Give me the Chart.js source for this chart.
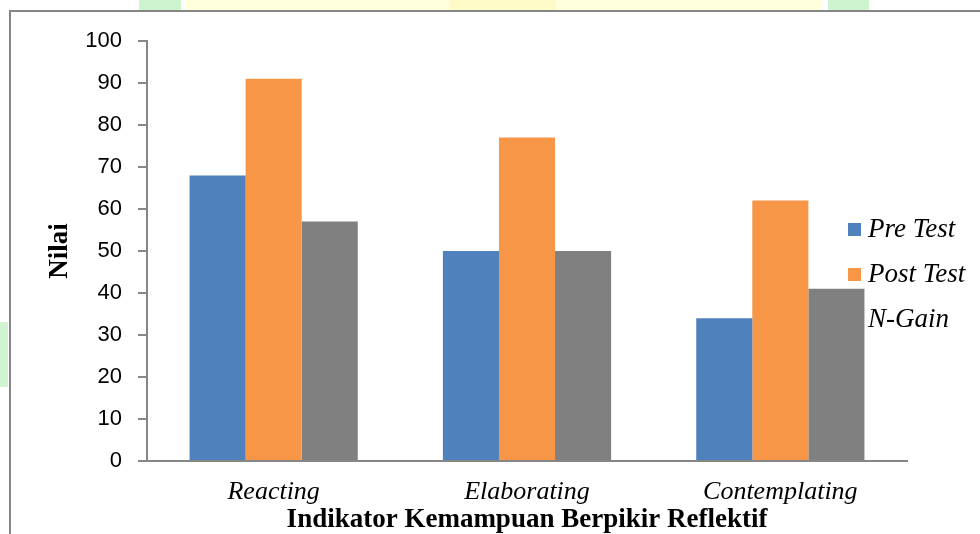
<!DOCTYPE html>
<html>
<head>
<meta charset="utf-8">
<script src="https://cdn.jsdelivr.net/npm/chart.js@4"></script>
<style>
  html, body { margin: 0; padding: 0; background: #ffffff; }
  #wrap { position: relative; width: 980px; height: 534px; overflow: hidden; }
  .deco { position: absolute; }
  #chart { position: absolute; left: 0; top: 0; }
</style>
</head>
<body>
<div id="wrap">
  <!-- page decoration behind the figure frame -->
  <div class="deco" style="left:139px;top:0;width:42px;height:10px;background:#cdf3cf;"></div>
  <div class="deco" style="left:186px;top:0;width:636px;height:10px;background:#ffffdc;"></div>
  <div class="deco" style="left:450px;top:0;width:106px;height:10px;background:#fffbc8;"></div>
  <div class="deco" style="left:828px;top:0;width:41px;height:10px;background:#cdf3cf;"></div>
  <div class="deco" style="left:0;top:322px;width:8px;height:65px;background:#d2f3d2;"></div>
  <!-- figure frame -->
  <div class="deco" style="left:9px;top:10px;width:971px;height:2px;background:#868686;"></div>
  <div class="deco" style="left:9px;top:10px;width:2px;height:524px;background:#868686;"></div>
  <canvas id="chart" width="980" height="534"></canvas>
</div>
<script>
// Indicator categories and scores per test
const categories = ['Reacting', 'Elaborating', 'Contemplating'];
const preTest = [68, 50, 34];
const postTest = [91, 77, 62];
const nGain = [57, 50, 41];
const seriesNames = ['Pre Test', 'Post Test', 'N-Gain'];
const seriesColors = ['#4f81bd', '#f79646', '#808080'];
const yTicks = [0, 10, 20, 30, 40, 50, 60, 70, 80, 90, 100];

const axisGray = '#868686';
const serif = '"Liberation Serif", "Times New Roman", serif';

// Legend drawn beneath the bars, at the right side of the plot
const sideLegend = {
  id: 'sideLegend',
  beforeDatasetsDraw(chart) {
    const ctx = chart.ctx;
    ctx.save();
    ctx.font = 'italic 27px ' + serif;
    ctx.textBaseline = 'middle';
    ctx.textAlign = 'left';
    seriesNames.forEach((name, i) => {
      const cy = 230 + i * 45;
      ctx.fillStyle = seriesColors[i];
      ctx.fillRect(848, cy - 7, 13, 13);
      ctx.fillStyle = '#000000';
      ctx.fillText(name, 868, cy);
    });
    ctx.restore();
  }
};

new Chart(document.getElementById('chart'), {
  type: 'bar',
  data: {
    labels: categories,
    datasets: [
      { label: seriesNames[0], data: preTest, backgroundColor: seriesColors[0] },
      { label: seriesNames[1], data: postTest, backgroundColor: seriesColors[1] },
      { label: seriesNames[2], data: nGain, backgroundColor: seriesColors[2] }
    ]
  },
  options: {
    responsive: false,
    animation: false,
    devicePixelRatio: 1,
    layout: { padding: { top: 41, right: 73, bottom: 0, left: 0 } },
    datasets: {
      bar: { categoryPercentage: 0.664, barPercentage: 1.0, borderWidth: 0 }
    },
    plugins: {
      legend: { display: false },
      tooltip: { enabled: false }
    },
    scales: {
      x: {
        grid: { display: true, drawOnChartArea: false, drawTicks: false },
        border: { display: true, color: axisGray, width: 2 },
        ticks: {
          color: '#000000',
          padding: 16,
          font: { family: serif, size: 26, style: 'italic' }
        },
        title: {
          display: true,
          text: 'Indikator Kemampuan Berpikir Reflektif',
          color: '#000000',
          padding: 0,
          font: { family: serif, size: 27, weight: 'bold', lineHeight: 1 }
        },
        afterFit(scale) { scale.height = 73; }
      },
      y: {
        min: 0,
        max: 100,
        afterBuildTicks(scale) { scale.ticks = yTicks.map(v => ({ value: v })); },
        grid: { drawOnChartArea: false, drawTicks: true, tickLength: 9, color: axisGray, lineWidth: 2 },
        border: { display: true, color: axisGray, width: 2 },
        ticks: {
          color: '#000000',
          padding: 16,
          font: { family: '"Liberation Sans", Arial, sans-serif', size: 22 }
        },
        title: {
          display: true,
          text: 'Nilai',
          color: '#000000',
          padding: { top: 47, bottom: 0 },
          font: { family: serif, size: 27, weight: 'bold', lineHeight: 1 }
        },
        afterFit(scale) { scale.width = 147; }
      }
    }
  },
  plugins: [sideLegend]
});
</script>
</body>
</html>
